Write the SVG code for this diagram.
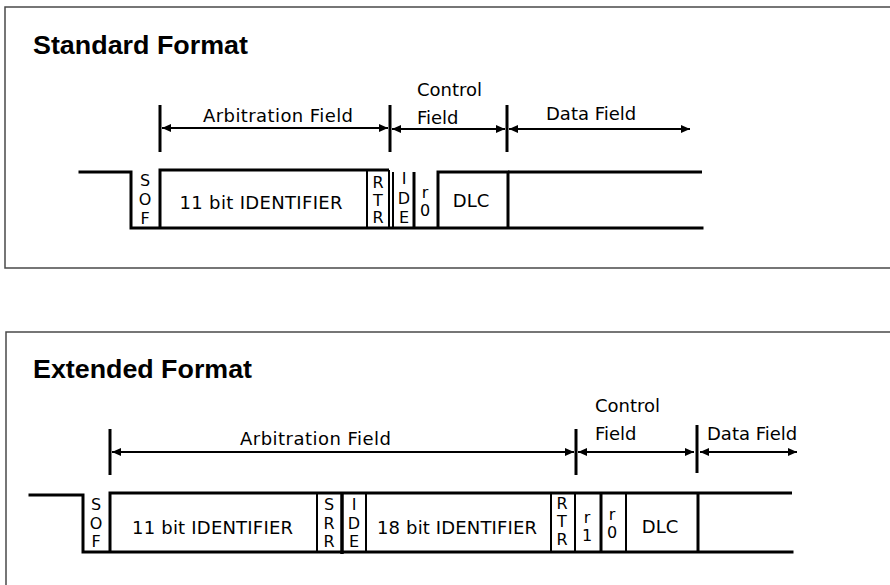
<svg xmlns="http://www.w3.org/2000/svg" width="890" height="585" viewBox="0 0 890 585">
<defs>
<style>
.border{fill:none;stroke:#4a4a4a;stroke-width:1.5}
.sig{fill:none;stroke:#000;stroke-width:3;stroke-linejoin:miter;stroke-linecap:square}
.d2{stroke:#000;stroke-width:2;fill:none}
.d3{stroke:#000;stroke-width:3;fill:none}
.tick{stroke:#000;stroke-width:3}
.dim{stroke:#000;stroke-width:2;fill:none;marker-start:url(#ah);marker-end:url(#ah)}
.title{font-family:"Liberation Sans",Arial,sans-serif;font-weight:bold;font-size:26px;fill:#000}
.lbl{font-family:"DejaVu Sans",sans-serif;font-size:18px;fill:#000}
.mid{text-anchor:middle}
.bit{font-family:"DejaVu Sans",sans-serif;font-size:16px;text-anchor:middle;fill:#000}
</style>
<marker id="ah" viewBox="0 0 9 8" refX="9" refY="4" markerWidth="9" markerHeight="8" markerUnits="userSpaceOnUse" orient="auto-start-reverse">
<path d="M0,0 L9,4 L0,8 z" fill="#000"/>
</marker>
</defs>
<rect width="890" height="585" fill="#fff"/>

<!-- panel borders -->
<path class="border" d="M890,7 H5 V268 H890"/>
<path class="border" d="M890,332 H6 V585"/>

<!-- ===== Standard format ===== -->
<g id="std-title"><text class="title" x="33" y="54" textLength="215" lengthAdjust="spacingAndGlyphs">Standard Format</text></g>

<g id="std-labels">
<text class="lbl mid" x="278" y="122" textLength="150">Arbitration Field</text>
<text class="lbl" x="417" y="96">Control</text>
<text class="lbl" x="417" y="124">Field</text>
<text class="lbl" x="546" y="120">Data Field</text>
</g>

<g id="std-signal">
<path class="sig" d="M80,172 H131 V228 H702"/>
</g>
<g id="std-sof">
<text class="bit" x="145" y="185.5">S</text>
<text class="bit" x="145" y="204.5">O</text>
<text class="bit" x="145" y="223.5">F</text>
</g>
<g id="std-id11">
<path class="d3" d="M160,228 V170 H389"/>
<line class="d2" x1="367" y1="170" x2="367" y2="228"/>
<text class="lbl mid" x="261" y="209" textLength="163">11 bit IDENTIFIER</text>
</g>
<g id="std-rtr">
<line class="d2" x1="389" y1="170" x2="389" y2="228"/>
<text class="bit" x="378" y="188">R</text>
<text class="bit" x="378" y="205.5">T</text>
<text class="bit" x="378" y="223">R</text>
</g>
<g id="std-ide">
<line class="d2" x1="393" y1="172" x2="393" y2="228"/>
<line class="d3" x1="414" y1="172" x2="414" y2="228"/>
<text class="bit" x="404" y="184">I</text>
<text class="bit" x="404" y="203.5">D</text>
<text class="bit" x="404" y="223">E</text>
</g>
<g id="std-r0">
<text class="bit" x="425" y="198">r</text>
<text class="bit" x="425" y="216">0</text>
</g>
<g id="std-dlc">
<path class="d3" d="M438,228 V172 H508 V228"/>
<text class="lbl mid" x="471" y="207">DLC</text>
</g>
<g id="std-data">
<path class="d3" d="M508,172 H702"/>
</g>

<!-- ===== Extended format ===== -->
<g id="ext-title"><text class="title" x="33" y="378" textLength="219" lengthAdjust="spacingAndGlyphs">Extended Format</text></g>

<g id="ext-labels">
<text class="lbl mid" x="315.5" y="445" textLength="151">Arbitration Field</text>
<text class="lbl" x="595" y="412">Control</text>
<text class="lbl" x="595" y="440">Field</text>
<text class="lbl" x="707" y="440">Data Field</text>
</g>

<g id="ext-signal">
<path class="sig" d="M30,495 H83 V552 H792"/>
<path class="d3" d="M110,552 V493 H792"/>
</g>
<g id="ext-sof">
<text class="bit" x="96" y="509.5">S</text>
<text class="bit" x="96" y="528.5">O</text>
<text class="bit" x="96" y="547">F</text>
</g>
<g id="ext-id11">
<line class="d2" x1="317" y1="493" x2="317" y2="552"/>
<text class="lbl mid" x="212.5" y="534" textLength="161">11 bit IDENTIFIER</text>
</g>
<g id="ext-srr">
<line x1="342" y1="493" x2="342" y2="554" stroke="#000" stroke-width="3.5"/>
<text class="bit" x="329" y="509.5">S</text>
<text class="bit" x="329" y="528.5">R</text>
<text class="bit" x="329" y="547">R</text>
</g>
<g id="ext-ide">
<line class="d2" x1="366" y1="493" x2="366" y2="552"/>
<text class="bit" x="354" y="509.5">I</text>
<text class="bit" x="354" y="528.5">D</text>
<text class="bit" x="354" y="547">E</text>
</g>
<g id="ext-id18">
<line class="d2" x1="551" y1="493" x2="551" y2="552"/>
<text class="lbl mid" x="457" y="534" textLength="160">18 bit IDENTIFIER</text>
</g>
<g id="ext-rtr">
<line class="d2" x1="575" y1="493" x2="575" y2="552"/>
<text class="bit" x="562" y="509">R</text>
<text class="bit" x="562" y="527">T</text>
<text class="bit" x="562" y="545">R</text>
</g>
<g id="ext-r1">
<line class="d3" x1="601" y1="493" x2="601" y2="552"/>
<text class="bit" x="587" y="523">r</text>
<text class="bit" x="587" y="541">1</text>
</g>
<g id="ext-r0">
<line class="d2" x1="626" y1="493" x2="626" y2="552"/>
<text class="bit" x="612" y="520">r</text>
<text class="bit" x="612" y="538">0</text>
</g>
<g id="ext-dlc">
<line class="d3" x1="698" y1="493" x2="698" y2="552"/>
<text class="lbl mid" x="660" y="533">DLC</text>
</g>

<!-- ===== connectors: field boundary ticks and dimension arrows ===== -->
<g id="connectors">
<line class="tick" x1="160" y1="105" x2="160" y2="152"/>
<line class="tick" x1="390" y1="105" x2="390" y2="152"/>
<line class="tick" x1="507" y1="105" x2="507" y2="152"/>
<line class="dim" x1="162" y1="128" x2="388" y2="128"/>
<line class="dim" x1="392" y1="129" x2="505" y2="129"/>
<line class="dim" x1="509" y1="129" x2="690" y2="129"/>

<line class="tick" x1="110" y1="429" x2="110" y2="475"/>
<line class="tick" x1="576" y1="429" x2="576" y2="475"/>
<line class="tick" x1="697" y1="425" x2="697" y2="473"/>
<line class="dim" x1="112" y1="452" x2="574" y2="452"/>
<line class="dim" x1="578" y1="452" x2="694" y2="452"/>
<line class="dim" x1="700" y1="452" x2="797" y2="452"/>
</g>
</svg>
